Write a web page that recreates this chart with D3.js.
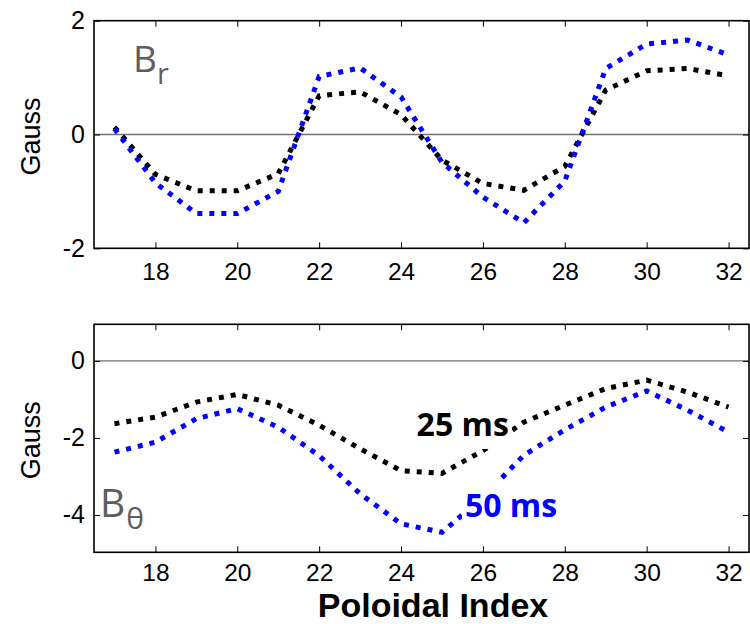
<!DOCTYPE html>
<html>
<head>
<meta charset="utf-8">
<script src="https://cdn.jsdelivr.net/npm/d3@7"></script>
<style>
  html, body { margin: 0; padding: 0; background: #fff; }
  svg { display: block; }
</style>
</head>
<body>
<svg id="chart" width="750" height="624"></svg>
<script>
// ---- data ----
const poloidalIndex = [17, 18, 19, 20, 21, 22, 23, 24, 25, 26, 27, 28, 29, 30, 31, 32];
const br25ms = [0.13, -0.70, -0.99, -0.99, -0.69, 0.68, 0.75, 0.35, -0.45, -0.86, -0.98, -0.56, 0.78, 1.12, 1.16, 1.03];
const br50ms = [0.10, -0.85, -1.39, -1.39, -1.00, 1.02, 1.17, 0.66, -0.49, -1.10, -1.55, -0.82, 1.16, 1.59, 1.66, 1.40];
const bt25ms = [-1.63, -1.46, -1.07, -0.87, -1.15, -1.67, -2.28, -2.85, -2.92, -2.33, -1.59, -1.15, -0.72, -0.50, -0.81, -1.20];
const bt50ms = [-2.37, -2.11, -1.50, -1.24, -1.72, -2.46, -3.45, -4.23, -4.45, -3.54, -2.45, -1.79, -1.20, -0.78, -1.28, -1.85];
const xTicks = [18, 20, 22, 24, 26, 28, 30, 32];
const brTicks = [-2, 0, 2];
const btTicks = [-4, -2, 0];
const seriesNames = ["25 ms", "50 ms"];
const seriesColors = ["#000000", "#0000ff"];

// ---- layout ----
const svg = d3.select("#chart");
const left = 94, right = 749;
const x = d3.scaleLinear().domain([16.5, 32.5]).range([left, right]);
const yTop = d3.scaleLinear().domain([-2, 2]).range([248.3, 20.7]);
const yBot = d3.scaleLinear().domain([-4.97, 0.95]).range([552.3, 324.3]);

const tickFont = "'Liberation Sans', Arial, sans-serif";

function panel(y, ticks, series, xPad) {
  const g = svg.append("g");
  const [y0, y1] = y.range();
  // zero line
  g.append("line")
    .attr("x1", left).attr("x2", right)
    .attr("y1", y(0)).attr("y2", y(0))
    .attr("stroke", "#707070").attr("stroke-width", 1.4);

  // axes with inward ticks
  const bottom = g.append("g").attr("transform", `translate(0,${y0})`)
    .call(d3.axisBottom(x).tickValues(xTicks).tickSizeInner(-6).tickSizeOuter(0).tickPadding(xPad).tickFormat(d => String(d)));
  const top = g.append("g").attr("transform", `translate(0,${y1})`)
    .call(d3.axisTop(x).tickValues(xTicks).tickSizeInner(-6).tickSizeOuter(0).tickFormat(""));
  const lft = g.append("g").attr("transform", `translate(${left},0)`)
    .call(d3.axisLeft(y).tickValues(ticks).tickSizeInner(-6).tickSizeOuter(0).tickPadding(9).tickFormat(d => String(d)));
  const rgt = g.append("g").attr("transform", `translate(${right},0)`)
    .call(d3.axisRight(y).tickValues(ticks).tickSizeInner(-6).tickSizeOuter(0).tickFormat(""));
  [bottom, top, lft, rgt].forEach(a => {
    a.select(".domain").remove();
    a.selectAll(".tick line").attr("stroke", "#000").attr("stroke-width", 1);
    a.selectAll(".tick text").attr("font-family", tickFont).attr("font-size", 25).attr("fill", "#000");
  });
  bottom.selectAll(".tick text").attr("font-size", 24.5);

  // border
  g.append("rect")
    .attr("x", left).attr("y", y1)
    .attr("width", right - left).attr("height", y0 - y1)
    .attr("fill", "none").attr("stroke", "#000").attr("stroke-width", 1.6);

  // lines
  const line = d3.line().x((d, i) => x(poloidalIndex[i])).y(d => y(d));
  series.forEach((vals, k) => {
    g.append("path")
      .datum(vals)
      .attr("d", line)
      .attr("fill", "none")
      .attr("stroke", seriesColors[k])
      .attr("stroke-width", 5)
      .attr("stroke-dasharray", "5 7")
      .attr("stroke-linecap", "butt")
      .attr("stroke-linejoin", "miter");
  });

  // y label
  g.append("text")
    .attr("transform", `translate(40,${(y0 + y1) / 2 + 2}) rotate(-90)`)
    .attr("text-anchor", "middle")
    .attr("font-family", tickFont)
    .attr("font-size", 27)
    .attr("fill", "#000")
    .text("Gauss");
  return g;
}

const gTop = panel(yTop, brTicks, [br25ms, br50ms], 14);
const gBot = panel(yBot, btTicks, [bt25ms, bt50ms], 11);

// component labels
const labFont = "'Open Sans', 'DejaVu Sans', sans-serif";
const br = svg.append("text").attr("x", 133).attr("y", 71.7)
  .attr("font-family", labFont).attr("font-size", 37).attr("fill", "#5e5e5e");
br.append("tspan").text("B");
br.append("tspan").attr("font-size", 29).attr("dy", 12).attr("dx", 0).text("r");

const bt = svg.append("text").attr("x", 100).attr("y", 516.7)
  .attr("font-family", labFont).attr("font-size", 39).attr("fill", "#5e5e5e");
bt.append("tspan").text("B");
bt.append("tspan").attr("font-size", 30).attr("dy", 12).attr("dx", 1).text("θ");

// series annotations with white background
function annot(text, xi, yv, color) {
  const t = gBot.append("text")
    .attr("x", x(xi)).attr("y", yBot(yv))
    .attr("font-family", labFont).attr("font-weight", 700)
    .attr("font-size", 32).attr("fill", color)
    .text(text);
  const bb = t.node().getBBox();
  gBot.insert("rect", () => t.node())
    .attr("x", bb.x - 3).attr("y", bb.y - 2)
    .attr("width", bb.width + 6).attr("height", bb.height + 6)
    .attr("fill", "#fff");
}
annot(seriesNames[0], 24.38, -1.95, seriesColors[0]);
annot(seriesNames[1], 25.56, -4.05, seriesColors[1]);

// x axis title
svg.append("text")
  .attr("x", 433).attr("y", 617)
  .attr("text-anchor", "middle")
  .attr("font-family", tickFont)
  .attr("font-weight", 700)
  .attr("font-size", 34)
  .attr("fill", "#000")
  .text("Poloidal Index");
</script>
</body>
</html>
